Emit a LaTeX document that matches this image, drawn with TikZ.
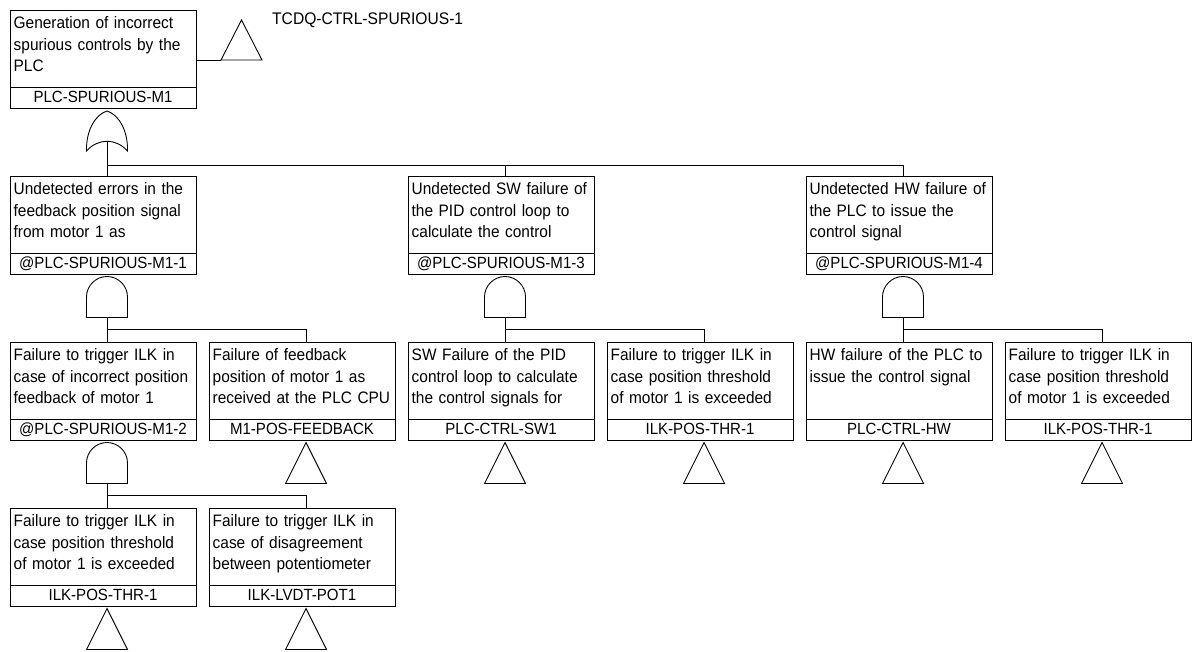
\documentclass[tikz,border=0pt]{standalone}
\usepackage{fontspec}
\setmainfont{Liberation Sans}
\newfontfamily\evfont[FakeStretch=0.93]{Liberation Sans}
\usetikzlibrary{calc}
\tikzset{
  evbox/.style={draw, line width=0.9pt, minimum width=186pt, minimum height=77.5pt, inner sep=0pt, outer sep=0pt},
  evid/.style={draw, line width=0.9pt, minimum width=186pt, minimum height=21pt, inner sep=0pt, outer sep=0pt, text height=11pt, text depth=3pt, font=\evfont\fontsize{16.2}{18}\selectfont},
  evtxt/.style={inner sep=0pt, text width=230pt, align=left, font=\evfont\fontsize{16.6}{21.6}\selectfont},
  gate/.style={draw, line width=0.9pt, line join=miter},
  conn/.style={draw, line width=0.9pt},
  lbl/.style={inner sep=0pt, font=\evfont\fontsize{16.8}{19}\selectfont}
}
\newcommand{\evt}[5]{%
  \node[evbox, anchor=north west] (#1) at (#2,#3) {};
  \node[evid, anchor=north] (#1id) at (#1.south) {#5};
  \node[evtxt, anchor=base west] (#1t) at ($(#1.north west)+(3.5,18.5)$) {#4};
  \coordinate (#1top) at ($(#1.north west)+(97,0)$);
  \coordinate (#1bot) at ($(#1id.south west)+(97,0)$);
}
\newcommand{\andg}[2]{%
  \coordinate (#1t) at ($(#2bot)+(0,2)$);
  \draw[gate] ($(#1t)+(-20.5,41)$) -- ($(#1t)+(-20.5,20.5)$)
     .. controls ($(#1t)+(-20.5,9)$) and ($(#1t)+(-11,0)$) .. (#1t)
     .. controls ($(#1t)+(11,0)$) and ($(#1t)+(20.5,9)$) .. ($(#1t)+(20.5,20.5)$)
     -- ($(#1t)+(20.5,41)$) -- cycle;
  \coordinate (#1o) at ($(#1t)+(0,41)$);
}
\newcommand{\org}[2]{%
  \coordinate (#1t) at ($(#2bot)+(0,2.5)$);
  \draw[gate] ($(#1t)+(-20.5,40)$)
     .. controls ($(#1t)+(-21,17)$) and ($(#1t)+(-10,3)$) .. (#1t)
     .. controls ($(#1t)+(10,3)$) and ($(#1t)+(21,17)$) .. ($(#1t)+(20.5,40)$)
     .. controls ($(#1t)+(9,27)$) and ($(#1t)+(-9,27)$) .. cycle;
  \coordinate (#1o) at ($(#1t)+(0,30.25)$);
}
\newcommand{\trf}[2]{%
  \coordinate (#1t) at ($(#2bot)+(0,2)$);
  \draw[gate] (#1t) -- ($(#1t)+(20.5,41)$) -- ($(#1t)+(-20.5,41)$) -- cycle;
}
\begin{document}
\begin{tikzpicture}[x=1pt,y=-1pt]
\fill[white] (0,0) rectangle (1192,651);
\useasboundingbox (0,0) rectangle (1192,651);

% level 1
\evt{top}{10}{10}{Generation of incorrect\\spurious controls by the\\PLC}{PLC-SPURIOUS-M1}
\coordinate (tta) at (241.5,20);
\coordinate (ttl) at (221,60);
\coordinate (ttr) at (262,60);
\draw[gate] (tta) -- (ttr) -- (ttl) -- cycle;
\draw[conn] (top.north east |- ttl) -- (ttl);
\node[lbl, anchor=base west] (ttlabel) at (272,24.5) {TCDQ-CTRL-SPURIOUS-1};
\org{g0}{top}

% level 2
\evt{a}{10}{176}{Undetected errors in the\\feedback position signal\\from motor 1 as}{@PLC-SPURIOUS-M1-1}
\evt{b}{408}{176}{Undetected SW failure of\\the PID control loop to\\calculate the control}{@PLC-SPURIOUS-M1-3}
\evt{c}{806}{176}{Undetected HW failure of\\the PLC to issue the\\control signal}{@PLC-SPURIOUS-M1-4}
\coordinate (bus1) at (0,165);
\draw[conn] (g0o) -- (atop);
\draw[conn] (g0o |- bus1) -| (ctop);
\draw[conn] (btop |- bus1) -- (btop);

\andg{ga}{a}
\andg{gb}{b}
\andg{gc}{c}

% level 3
\evt{d}{10}{342}{Failure to trigger ILK in\\case of incorrect position\\feedback of motor 1}{@PLC-SPURIOUS-M1-2}
\evt{e}{209}{342}{Failure of feedback\\position of motor 1 as\\received at the PLC CPU}{M1-POS-FEEDBACK}
\evt{f}{408}{342}{SW Failure of the PID\\control loop to calculate\\the control signals for}{PLC-CTRL-SW1}
\evt{g}{607}{342}{Failure to trigger ILK in\\case position threshold\\of motor 1 is exceeded}{ILK-POS-THR-1}
\evt{h}{806}{342}{HW failure of the PLC to\\issue the control signal}{PLC-CTRL-HW}
\evt{i}{1005}{342}{Failure to trigger ILK in\\case position threshold\\of motor 1 is exceeded}{ILK-POS-THR-1}
\coordinate (bus2) at (0,329);
\draw[conn] (gao) -- (dtop);
\draw[conn] (gao |- bus2) -| (etop);
\draw[conn] (gbo) -- (ftop);
\draw[conn] (gbo |- bus2) -| (gtop);
\draw[conn] (gco) -- (htop);
\draw[conn] (gco |- bus2) -| (itop);

\andg{gd}{d}
\trf{te}{e}
\trf{tf}{f}
\trf{tg}{g}
\trf{th}{h}
\trf{ti}{i}

% level 4
\evt{j}{10}{508}{Failure to trigger ILK in\\case position threshold\\of motor 1 is exceeded}{ILK-POS-THR-1}
\evt{k}{209}{508}{Failure to trigger ILK in\\case of disagreement\\between potentiometer}{ILK-LVDT-POT1}
\coordinate (bus3) at (0,495);
\draw[conn] (gdo) -- (jtop);
\draw[conn] (gdo |- bus3) -| (ktop);
\trf{tj}{j}
\trf{tk}{k}
\end{tikzpicture}
\end{document}
